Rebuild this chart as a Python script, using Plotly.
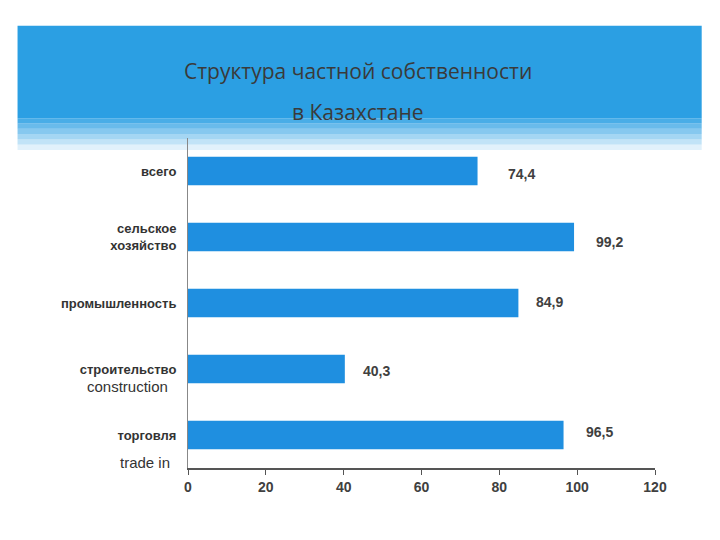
import plotly.graph_objects as go

categories = ['всего', 'сельское<br>хозяйство', 'промышленность', 'строительство', 'торговля']
values = [74.4, 99.2, 84.9, 40.3, 96.5]
value_labels = ['74,4', '99,2', '84,9', '40,3', '96,5']
x_ticks = [0, 20, 40, 60, 80, 100, 120]

fig = go.Figure()
fig.add_trace(go.Bar(y=categories, x=values, orientation='h',
                     marker=dict(color='#1f8fe0', line=dict(width=0)),
                     width=0.43, hoverinfo='skip'))

# подписи значений справа от столбцов
shifts = [(28, -3), (20, -5), (16, 1), (16, -2), (20, 3)]
for cat, val, lab, (dx, dy) in zip(categories, values, value_labels, shifts):
    fig.add_annotation(x=val, y=cat, text='<b>' + lab + '</b>', showarrow=False, xanchor='left',
                       xshift=dx, yshift=dy,
                       font=dict(family='Liberation Sans', size=14, color='#404040'))

# английские подписи
fig.add_annotation(x=0, y='строительство', text='construction', showarrow=False,
                   xanchor='right', xshift=-18, yshift=-17,
                   font=dict(family='Liberation Sans', size=15, color='#333333'))
fig.add_annotation(x=0, y='торговля', text='trade in', showarrow=False,
                   xanchor='right', xshift=-16, yshift=-27,
                   font=dict(family='Liberation Sans', size=15, color='#333333'))

# шапка слайда
X0, X1 = -0.365, 1.1
fig.add_shape(type='rect', xref='paper', yref='paper', x0=X0, x1=X1, y0=1.06, y1=1.34,
              fillcolor='#2b9fe3', line_width=0, layer='below')
steps = 6
for i in range(steps):
    y1 = 1.06 - i * 0.016
    fig.add_shape(type='rect', xref='paper', yref='paper', x0=X0, x1=X1,
                  y0=y1 - 0.016, y1=y1,
                  fillcolor='rgba(43,159,227,%.2f)' % (1 - (i + 1) / (steps + 1)),
                  line_width=0, layer='below')

fig.add_annotation(xref='paper', yref='paper', x=0.365, y=1.252, text='Структура частной собственности',
                   showarrow=False, font=dict(family='Open Sans', size=21, color='#3a3a3a'))
fig.add_annotation(xref='paper', yref='paper', x=0.365, y=1.127, text='в Казахстане',
                   showarrow=False, font=dict(family='Open Sans', size=21, color='#3a3a3a'))

fig.update_layout(
    width=720, height=540,
    margin=dict(l=180, r=73, t=130, b=80),
    paper_bgcolor='white', plot_bgcolor='rgba(0,0,0,0)',
    showlegend=False,
    xaxis=dict(range=[0, 120], tickvals=x_ticks, ticktext=['<b>%d</b>' % t for t in x_ticks],
               showgrid=False, zeroline=False,
               showline=True, linecolor='#555555', linewidth=2, ticks='outside',
               ticklen=5, tickcolor='#555555',
               tickfont=dict(family='Liberation Sans', size=14, color='#404040')),
    yaxis=dict(autorange='reversed', showgrid=False, showline=True, linecolor='#888888',
               linewidth=1, ticks='', ticklabelstandoff=8,
               tickvals=categories, ticktext=['<b>' + c + '</b>' for c in categories],
               tickfont=dict(family='Liberation Sans', size=13, color='#333333')),
)

fig.write_html('out.html')
